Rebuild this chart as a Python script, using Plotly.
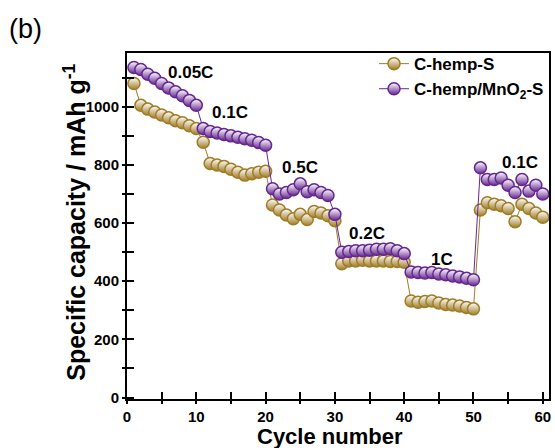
import plotly.graph_objects as go

cycles = list(range(1, 61))

c_hemp_s = [1080, 1005, 992, 982, 972, 962, 952, 945, 935, 925,
            878, 805, 800, 795, 785, 775, 765, 770, 775, 778,
            662, 645, 628, 615, 630, 612, 640, 635, 625, 608,
            460, 470, 470, 472, 470, 470, 470, 468, 468, 465,
            332, 328, 330, 332, 325, 320, 318, 315, 310, 305,
            645, 670, 665, 660, 650, 605, 665, 650, 635, 620]

c_hemp_mno2_s = [1135, 1128, 1112, 1098, 1080, 1065, 1052, 1038, 1022, 1005,
                 925, 915, 910, 905, 900, 895, 890, 885, 877, 868,
                 718, 700, 705, 715, 735, 708, 715, 705, 695, 630,
                 500, 502, 505, 505, 507, 510, 510, 512, 505, 495,
                 432, 430, 428, 430, 425, 422, 418, 415, 410, 405,
                 790, 750, 750, 755, 730, 705, 750, 710, 730, 700]

rate_labels = ["0.05C", "0.1C", "0.5C", "0.2C", "1C", "0.1C"]
rate_label_x = [9.2, 14.8, 25.0, 34.6, 45.5, 56.7]
rate_label_y = [1118, 980, 791, 565, 475, 808]

x_ticks = [0, 10, 20, 30, 40, 50, 60]
y_ticks = [0, 200, 400, 600, 800, 1000]

GOLD = "#a07c25"
PURPLE = "#652690"
FONT = "Liberation Sans"

fig = go.Figure()

for name, vals, col in [("C-hemp-S", c_hemp_s, GOLD),
                        ("C-hemp/MnO<sub>2</sub>-S", c_hemp_mno2_s, PURPLE)]:
    fig.add_trace(go.Scatter(
        x=cycles, y=vals, name=name, mode="lines+markers",
        line=dict(color=col, width=1),
        marker=dict(size=12, color="white", symbol="circle",
                    gradient=dict(type="vertical", color=col),
                    line=dict(color=col, width=1.5)),
    ))

# invisible trace to activate the overlay axes (inside ticks)
fig.add_trace(go.Scatter(x=cycles, y=c_hemp_s, xaxis="x2", yaxis="y2",
                         mode="markers", marker=dict(opacity=0),
                         showlegend=False, hoverinfo="skip"))

for t, xx, yy in zip(rate_labels, rate_label_x, rate_label_y):
    fig.add_annotation(x=xx, y=yy, text=t, showarrow=False,
                       font=dict(family=FONT, size=17, color="black", weight="bold"))

fig.add_annotation(xref="paper", yref="paper", x=-0.125, y=0.51,
                   text="Specific capacity / mAh g<sup>-1</sup>", textangle=-90,
                   showarrow=False, xanchor="center", yanchor="middle",
                   font=dict(family=FONT, size=25, color="black", weight="bold"))
fig.add_annotation(xref="paper", yref="paper", x=0.482, y=-0.109,
                   text="Cycle number", showarrow=False,
                   xanchor="center", yanchor="middle",
                   font=dict(family=FONT, size=22, color="black", weight="bold"))
fig.add_annotation(xref="paper", yref="paper", x=-0.24, y=1.069,
                   text="(b)", showarrow=False, xanchor="center", yanchor="middle",
                   font=dict(family=FONT, size=27, color="black"))

axis_common = dict(showgrid=False, zeroline=False, showline=True, linewidth=2,
                   linecolor="black", mirror=True, ticks="outside", ticklen=3,
                   tickwidth=1.5, tickcolor="black",
                   tickfont=dict(family=FONT, size=15, color="black", weight="bold"))

fig.update_layout(
    width=555, height=448,
    margin=dict(l=127, r=4, t=53, b=49),
    paper_bgcolor="white", plot_bgcolor="white",
    xaxis=dict(range=[0, 60.9], tickvals=x_ticks,
               minor=dict(dtick=5, tick0=0, ticks="outside", ticklen=3,
                          tickwidth=1.5, tickcolor="black"),
               **axis_common),
    yaxis=dict(range=[-5, 1185], tickvals=y_ticks,
               minor=dict(dtick=100, tick0=0, ticks="outside", ticklen=3,
                          tickwidth=1.5, tickcolor="black"),
               **axis_common),
    xaxis2=dict(overlaying="x", matches="x", anchor="y2", side="bottom",
                showgrid=False, zeroline=False, showline=False,
                showticklabels=False, ticks="inside", ticklen=7, tickwidth=1.5,
                tickcolor="black", dtick=5, tick0=0),
    yaxis2=dict(overlaying="y", matches="y", anchor="x2", side="left",
                showgrid=False, zeroline=False, showline=False,
                showticklabels=False, ticks="inside", ticklen=7, tickwidth=1.5,
                tickcolor="black", dtick=100, tick0=0),
    legend=dict(x=1.0, y=1.02, xanchor="right", yanchor="top",
                bgcolor="rgba(0,0,0,0)", tracegroupgap=0,
                font=dict(family=FONT, size=17, color="black", weight="bold")),
    showlegend=True,
)

fig.write_html("out.html")
